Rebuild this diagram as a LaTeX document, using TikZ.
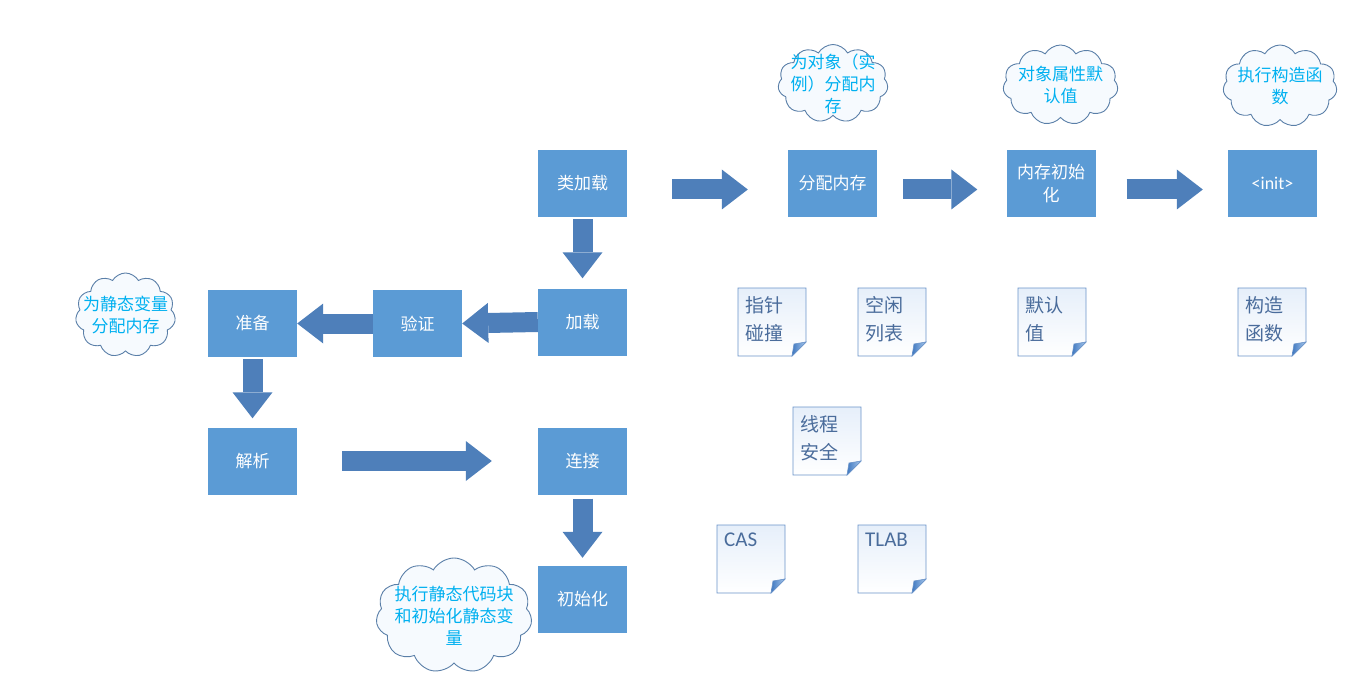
\documentclass[tikz,border=0pt]{standalone}
\usepackage{fontspec}
\setmainfont{Carlito}
\newfontfamily\cjk{Noto Sans CJK SC}
\usetikzlibrary{arrows.meta,shapes.symbols,backgrounds}

\definecolor{boxblue}{HTML}{5B9BD5}
\definecolor{arrowblue}{HTML}{4E7FBA}
\definecolor{cloudline}{HTML}{5A7FA8}
\definecolor{cloudfill}{HTML}{F6FAFE}
\definecolor{cloudtext}{HTML}{00B0F0}
\definecolor{docline}{HTML}{6A93C9}
\definecolor{docfill}{HTML}{E6EFFA}
\definecolor{doctext}{HTML}{4A6C9B}
\definecolor{folddark}{HTML}{3F78C0}
\definecolor{foldlight}{HTML}{A9C8EC}

\begin{document}
\begin{tikzpicture}[x=1pt,y=-1pt,
	stage/.style={rectangle, fill=boxblue, text=white, minimum width=89pt, minimum height=67pt,
		align=center, font=\cjk\fontsize{17}{23}\selectfont},
	flow/.style={draw=arrowblue, line width=20pt, -{Triangle[length=26pt,width=40pt,line width=0pt]}},
	note/.style={cloud, cloud puffs=11, cloud puff arc=120, draw=cloudline, fill=cloudfill,
		line width=0.9pt, inner sep=0pt},
	notetext/.style={text=cloudtext, align=center, font=\cjk\fontsize{17}{22}\selectfont},
	sheet/.style={anchor=north west, inner xsep=7pt, inner ysep=8pt, align=left,
		text=doctext, font=\cjk\fontsize{19}{28}\selectfont}]
	\useasboundingbox (0,0) rectangle (1363,695);
	% stages
	\node[stage] (cls) at (582.5,183.5) {类加载};
	\node[stage] (alloc) at (832.5,183.5) {分配内存};
	\node[stage] (meminit) at (1051,183.5) {内存初始\\化};
	\node[stage, font=\fontsize{18}{22}\selectfont] (init) at (1272.5,183.5) {<init>};
	\node[stage] (load) at (582.5,322) {加载};
	\node[stage] (verify) at (417.5,323.5) {验证};
	\node[stage] (prep) at (252.5,323.5) {准备};
	\node[stage] (resolve) at (252.5,461) {解析};
	\node[stage] (link) at (582.5,461) {连接};
	\node[stage] (clinit) at (582.5,599.5) {初始化};
	% clouds
	\node[note, minimum width=110pt, minimum height=78pt,
		label={[notetext]center:{为对象（实\\例）分配内\\存}}] (objnote) at (833,83.5) {};
	\node[note, minimum width=115pt, minimum height=80pt,
		label={[notetext]center:{对象属性默\\认值}}] (dfltnote) at (1060.5,85) {};
	\node[note, minimum width=114pt, minimum height=82pt,
		label={[notetext]center:{执行构造函\\数}}] (ctornote) at (1280,86) {};
	\node[note, minimum width=100pt, minimum height=84pt,
		label={[notetext]center:{为静态变量\\分配内存}}] (prepnote) at (125.5,315) {};
	\node[note, minimum width=156pt, minimum height=115pt,
		label={[notetext]center:{执行静态代码块\\和初始化静态变\\量}}] (clinitnote) at (454,615.5) {};
	% documents
	\node[sheet] (ptr) at (738,288) {指针\\碰撞};
	\node[sheet] (free) at (858,288) {空闲\\列表};
	\node[sheet] (dflt) at (1018,288) {默认\\值};
	\node[sheet] (ctor) at (1238,288) {构造\\函数};
	\node[sheet] (safe) at (793,407) {线程\\安全};
	\node[sheet, font=\fontsize{21}{26}\selectfont] (cas) at (717,525) {CAS};
	\node[sheet, font=\fontsize{21}{26}\selectfont] (tlab) at (858,525) {TLAB};
	\begin{scope}[on background layer]
	\foreach \d in {ptr,free,dflt,ctor,safe,cas,tlab}{
		\shadedraw[top color=docfill, bottom color=white, draw=docline, line width=0.8pt]
			(\d.north west) -- ([xshift=68pt]\d.north west) -- ([shift={(68pt,-54pt)}]\d.north west)
			-- ([shift={(54pt,-68pt)}]\d.north west) -- ([yshift=-68pt]\d.north west) -- cycle;
		\shadedraw[left color=folddark, right color=foldlight, draw=docline, line width=0.6pt]
			([shift={(68pt,-54pt)}]\d.north west) -- ([shift={(54pt,-68pt)}]\d.north west)
			-- ([shift={(56pt,-56pt)}]\d.north west) -- cycle;
	}
	\end{scope}
	% arrows
	\draw[flow, shorten <=45pt, shorten >=40pt] ([yshift=-6pt]cls.east) -- ([yshift=-6pt]alloc.west);
	\draw[flow, shorten <=26pt, shorten >=29pt] ([yshift=-6pt]alloc.east) -- ([yshift=-6pt]meminit.west);
	\draw[flow, shorten <=31pt, shorten >=25pt] ([yshift=-6pt]meminit.east) -- ([yshift=-6pt]init.west);
	\draw[flow, shorten <=2pt, shorten >=10pt] (cls) -- (load);
	\draw[flow] (load.west) -- (verify.east);
	\draw[flow] (verify.west) -- (prep.east);
	\draw[flow, shorten <=2pt, shorten >=9pt] (prep) -- (resolve);
	\draw[flow, shorten <=45pt, shorten >=46pt] (resolve) -- (link);
	\draw[flow, shorten <=4pt, shorten >=8pt] (link) -- (clinit);
\end{tikzpicture}
\end{document}
